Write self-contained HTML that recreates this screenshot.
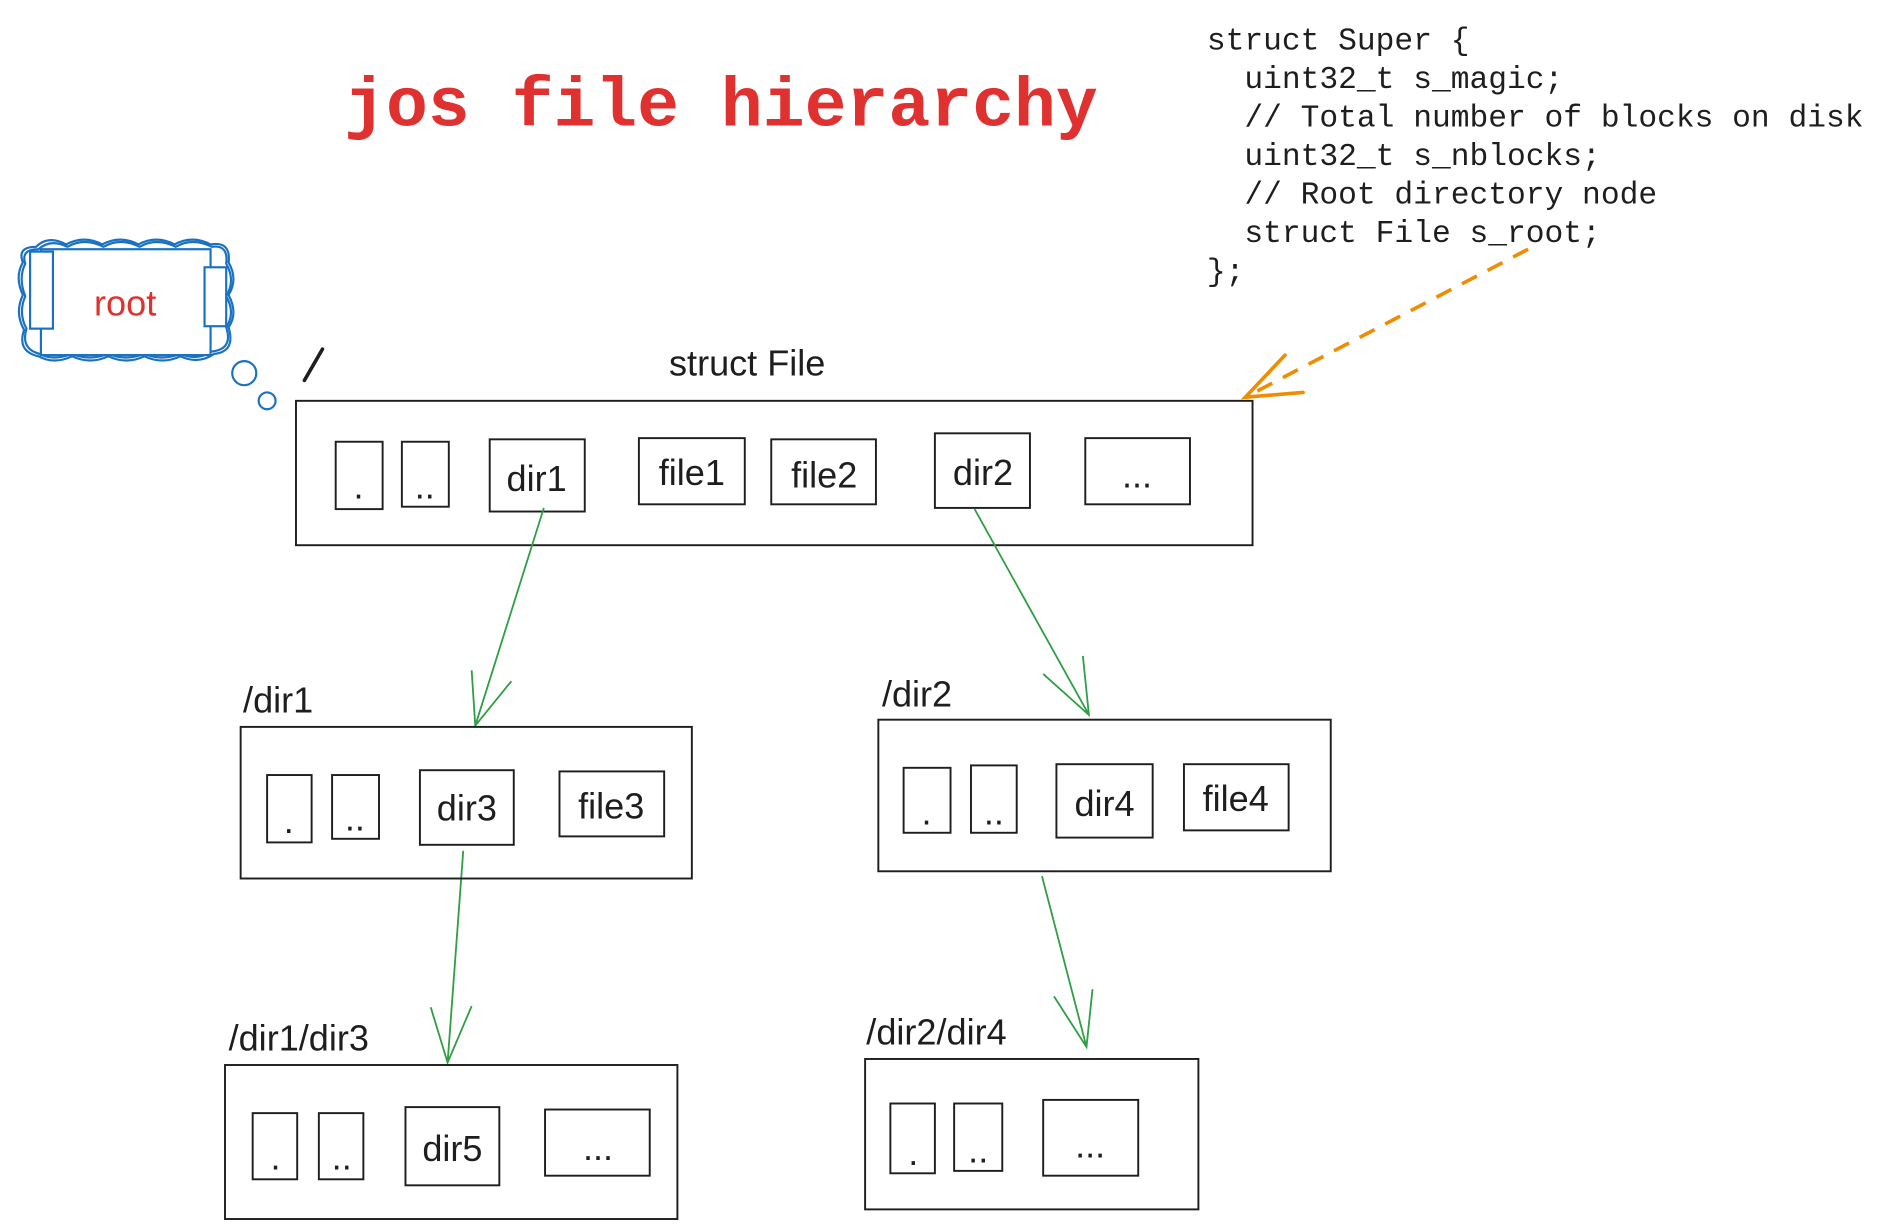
<!DOCTYPE html>
<html><head><meta charset="utf-8"><style>
html,body{margin:0;padding:0;background:#fff;}
svg{display:block}
.t{font-family:"Liberation Sans",sans-serif;font-size:30px;fill:#1e1e1e}
.b{fill:none;stroke:#1e1e1e;stroke-width:1.6}
.m{font-family:"Liberation Mono",monospace;font-size:26px;fill:#1e1e1e}
.g{stroke:#2f9e44;stroke-width:1.5;fill:none}
</style></head><body>
<svg width="1877" height="1230" viewBox="0 0 1560 1022" xmlns="http://www.w3.org/2000/svg">
<text x="286" y="104" font-family="Liberation Mono,monospace" font-size="58" font-weight="bold" fill="#e03131">jos file hierarchy</text>
<g class="m">
<text x="1003" y="41" xml:space="preserve">struct Super {</text>
<text x="1003" y="73" xml:space="preserve">  uint32_t s_magic;</text>
<text x="1003" y="105" xml:space="preserve">  // Total number of blocks on disk</text>
<text x="1003" y="137" xml:space="preserve">  uint32_t s_nblocks;</text>
<text x="1003" y="169" xml:space="preserve">  // Root directory node</text>
<text x="1003" y="201" xml:space="preserve">  struct File s_root;</text>
<text x="1003" y="233" xml:space="preserve">};</text>
</g>
<!-- cloud -->
<g fill="none" stroke="#1971c2" stroke-width="1.8">
<path d="M30 205 Q40 195 55 203 Q70 195 85 203 Q100 195 115 203 Q130 195 145 203 Q160 195 175 203 Q192 200 190 218 Q198 232 190 245 Q198 260 190 272 Q196 292 178 294 Q165 303 150 296 Q135 303 120 296 Q105 303 90 296 Q75 303 60 296 Q45 303 32 296 Q14 292 20 274 Q12 260 19 245 Q12 230 19 218 Q14 205 30 205Z"/>
<path d="M32 207 Q42 198 56 205 Q70 197 86 205 Q100 197 116 205 Q130 197 146 205 Q160 197 176 205 Q190 203 188 219 Q196 233 188 246 Q196 260 188 272 Q194 290 176 292 Q164 300 150 294 Q134 300 120 294 Q104 300 90 294 Q74 300 60 294 Q44 300 33 294 Q17 290 22 273 Q15 260 21 246 Q15 231 21 219 Q17 207 32 207Z"/>
<rect x="34" y="207" width="141" height="88" fill="#fff"/>
<rect x="25" y="209" width="19" height="64" fill="#fff"/>
<rect x="170" y="222" width="18" height="49" fill="#fff"/>
<circle cx="203" cy="310" r="10"/>
<circle cx="222" cy="333" r="7"/>
</g>
<text x="104" y="262" text-anchor="middle" font-family="Liberation Sans,sans-serif" font-size="30" fill="#e03131">root</text>
<line x1="253" y1="316" x2="268" y2="290" stroke="#1e1e1e" stroke-width="3" stroke-linecap="round"/>
<text class="t" x="621" y="312" text-anchor="middle">struct File</text>
<!-- main box -->
<rect class="b" x="246" y="333" width="795" height="120" stroke-width="2"/>
<rect class="b" x="279" y="367" width="39" height="56"/><text class="t" x="298" y="414" text-anchor="middle">.</text>
<rect class="b" x="334" y="367" width="39" height="54"/><text class="t" x="353" y="414" text-anchor="middle">..</text>
<rect class="b" x="407" y="365" width="79" height="60" stroke-width="2"/><text class="t" x="446" y="408" text-anchor="middle">dir1</text>
<rect class="b" x="531" y="364" width="88" height="55"/><text class="t" x="575" y="403" text-anchor="middle">file1</text>
<rect class="b" x="641" y="365" width="87" height="54"/><text class="t" x="685" y="405" text-anchor="middle">file2</text>
<rect class="b" x="777" y="360" width="79" height="62" stroke-width="2"/><text class="t" x="817" y="403" text-anchor="middle">dir2</text>
<rect class="b" x="902" y="364" width="87" height="55"/><text class="t" x="945" y="405" text-anchor="middle">...</text>
<!-- orange -->
<line x1="1270" y1="207" x2="1037" y2="329" stroke="#f08c00" stroke-width="3" stroke-dasharray="14 10"/>
<path d="M1068 295 L1035 330 L1083 326" fill="none" stroke="#f08c00" stroke-width="3" stroke-linecap="round"/>
<!-- green arrows -->
<path class="g" d="M452 422 L395 603 M392 557 L395 603 L425 566"/>
<path class="g" d="M810 423 L905 594 M867 560 L905 594 L900 545"/>
<path class="g" d="M385 707 L372 883 M358 837 L372 883 L392 836"/>
<path class="g" d="M866 728 L903 870 M876 828 L903 870 L908 822"/>
<!-- dir1 -->
<text class="t" x="202" y="592">/dir1</text>
<rect class="b" x="200" y="604" width="375" height="126" stroke-width="2"/>
<rect class="b" x="222" y="644" width="37" height="56" stroke-width="2"/><text class="t" x="240" y="692" text-anchor="middle">.</text>
<rect class="b" x="276" y="644" width="39" height="53"/><text class="t" x="295" y="690" text-anchor="middle">..</text>
<rect class="b" x="349" y="640" width="78" height="62" stroke-width="2"/><text class="t" x="388" y="682" text-anchor="middle">dir3</text>
<rect class="b" x="465" y="641" width="87" height="54"/><text class="t" x="508" y="680" text-anchor="middle">file3</text>
<!-- dir2 -->
<text class="t" x="733" y="587">/dir2</text>
<rect class="b" x="730" y="598" width="376" height="126" stroke-width="2"/>
<rect class="b" x="751" y="638" width="39" height="54" stroke-width="2"/><text class="t" x="770" y="685" text-anchor="middle">.</text>
<rect class="b" x="807" y="636" width="38" height="56" stroke-width="2"/><text class="t" x="826" y="685" text-anchor="middle">..</text>
<rect class="b" x="878" y="635" width="80" height="61" stroke-width="2"/><text class="t" x="918" y="678" text-anchor="middle">dir4</text>
<rect class="b" x="984" y="635" width="87" height="55"/><text class="t" x="1027" y="674" text-anchor="middle">file4</text>
<!-- dir1/dir3 -->
<text class="t" x="190" y="873">/dir1/dir3</text>
<rect class="b" x="187" y="885" width="376" height="128" stroke-width="2"/>
<rect class="b" x="210" y="925" width="37" height="55" stroke-width="2"/><text class="t" x="229" y="972" text-anchor="middle">.</text>
<rect class="b" x="265" y="925" width="37" height="55" stroke-width="2"/><text class="t" x="284" y="972" text-anchor="middle">..</text>
<rect class="b" x="337" y="920" width="78" height="65" stroke-width="2"/><text class="t" x="376" y="965" text-anchor="middle">dir5</text>
<rect class="b" x="453" y="922" width="87" height="55"/><text class="t" x="497" y="964" text-anchor="middle">...</text>
<!-- dir2/dir4 -->
<text class="t" x="720" y="868">/dir2/dir4</text>
<rect class="b" x="719" y="880" width="277" height="125" stroke-width="2"/>
<rect class="b" x="740" y="917" width="37" height="58" stroke-width="2"/><text class="t" x="759" y="968" text-anchor="middle">.</text>
<rect class="b" x="793" y="917" width="40" height="56" stroke-width="2"/><text class="t" x="813" y="966" text-anchor="middle">..</text>
<rect class="b" x="867" y="914" width="79" height="63" stroke-width="2"/><text class="t" x="906" y="962" text-anchor="middle">...</text>
</svg>
</body></html>
